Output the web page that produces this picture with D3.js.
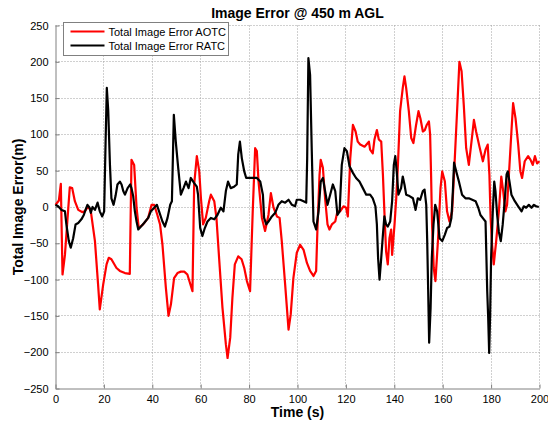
<!DOCTYPE html>
<html>
<head>
<meta charset="utf-8">
<script src="https://cdn.jsdelivr.net/npm/d3@7"></script>
<style>
  body { margin: 0; background: #fff; }
  text { font-family: Arial, "Liberation Sans", sans-serif; }
</style>
</head>
<body>
<div id="chart"></div>
<script>
// values: [time (s), error (m)]
const aotc = [[0,3],[1.4,9],[2.2,32],[2.9,-93],[3.9,-66],[4.8,-24],[5.9,27],[6.9,26],[8.0,8],[9.4,-4],[11.0,-7],[12.1,-6],[13.5,1],[14.6,-6],[16.3,-47],[17.6,-107],[18.3,-141],[19.7,-107],[21.1,-79],[22.0,-70],[23.1,-72],[25.2,-84],[26.6,-88],[28.7,-91],[30.7,-92],[31.4,65],[32.5,58],[33.5,-1],[34.4,-29],[36.2,-24],[38.3,-15],[39.7,3],[40.8,3],[42.1,-11],[43.2,-24],[44.2,-52],[45.6,-111],[46.7,-150],[47.7,-134],[49.0,-98],[50.4,-91],[51.8,-89],[53.2,-89],[54.5,-93],[56.6,-116],[57.3,31],[58.4,70],[59.4,49],[60.1,12],[61.0,-24],[62.1,-15],[63.5,8],[64.2,17],[65.6,8],[66.5,-15],[67.6,-70],[69.0,-139],[70.4,-189],[71.1,-208],[72.2,-180],[73.1,-125],[74.1,-79],[75.5,-68],[76.9,-72],[78.0,-84],[79.1,-102],[80.4,-116],[81.5,-6],[82.5,81],[83.2,77],[83.9,35],[85.3,-15],[86.6,-33],[88.0,-11],[89.0,19],[90.1,-1],[91.5,-13],[92.6,-15],[93.5,-47],[94.9,-107],[96.3,-169],[97.2,-148],[98.3,-98],[99.7,-63],[101.1,-52],[102.5,-59],[103.9,-77],[105.2,-88],[106.6,-95],[107.7,-88],[108.3,-24],[109.1,44],[109.6,65],[110.5,54],[111.4,12],[112.4,-24],[113.2,-31],[114.2,-24],[115.6,-20],[116.5,-6],[117.6,-6],[119.0,1],[120.1,-1],[120.8,-13],[121.8,67],[122.9,113],[124.0,104],[124.9,90],[125.9,86],[127.7,83],[129.5,90],[130.0,79],[131.1,74],[131.8,93],[132.8,106],[133.6,93],[134.6,90],[135.3,44],[135.9,-6],[136.6,-61],[137.3,-79],[138.0,-43],[138.7,-31],[139.1,-66],[140.1,-24],[140.8,12],[141.5,58],[142.4,132],[143.5,164],[144.2,180],[144.9,164],[146.0,132],[147.0,95],[147.9,88],[149.0,113],[150.0,132],[150.8,122],[151.8,104],[152.6,106],[153.4,113],[154.3,118],[154.8,100],[155.2,44],[155.6,-24],[156.3,-84],[157.0,-102],[158.1,-43],[159.1,26],[159.8,49],[160.9,35],[161.8,-6],[162.8,-20],[163.9,-6],[165.0,67],[166.0,136],[166.9,200],[167.8,187],[168.7,141],[169.7,81],[170.8,58],[171.9,90],[172.9,120],[173.8,104],[175.2,83],[176.6,63],[177.7,79],[178.6,86],[179.3,44],[179.8,-15],[180.4,-52],[181.1,-79],[182.1,-47],[183.2,-6],[184.2,42],[185.0,22],[185.9,-6],[186.6,3],[187.6,58],[188.4,104],[189.1,143],[190.1,122],[191.2,86],[192.1,49],[192.8,40],[193.9,63],[195.3,70],[196.3,65],[197.2,58],[198.1,70],[199.0,60],[200.0,63]];

const ratc = [[0,3],[1.1,1],[2.5,-4],[3.9,-6],[4.5,-24],[5.5,-47],[6.3,-56],[7.3,-43],[8.3,-24],[9.4,-22],[10.7,-17],[11.7,-11],[12.4,-4],[13.2,3],[14.1,-1],[14.6,-8],[15.3,0],[16.3,-4],[17.4,6],[18.3,-6],[19.3,-13],[20.1,-6],[20.7,90],[21.2,164],[21.8,132],[22.5,58],[23.1,12],[24.0,3],[24.8,15],[25.6,31],[26.6,35],[27.3,31],[28.0,22],[28.7,17],[29.8,26],[30.9,31],[31.4,26],[32.1,15],[32.8,-6],[33.5,-20],[34.2,-31],[35.3,-27],[36.6,-22],[38.3,-15],[39.4,-6],[40.8,-1],[41.9,3],[42.8,-6],[44.2,-20],[45.2,-27],[46.3,-15],[47.4,3],[48.1,8],[48.5,67],[48.9,127],[49.7,90],[50.7,54],[51.8,17],[52.9,26],[53.9,35],[55.0,26],[55.9,40],[57.3,33],[58.4,28],[58.9,17],[59.8,-29],[60.7,-40],[61.7,-29],[62.8,-20],[64.2,-15],[65.6,-17],[66.9,-11],[68.3,-1],[69.4,-6],[70.4,22],[71.3,35],[72.4,26],[73.8,28],[74.9,31],[75.5,72],[76.2,90],[77.0,67],[78.0,49],[78.8,40],[80.7,40],[83.2,40],[84.6,35],[85.7,17],[86.2,-15],[87.1,-24],[88.0,-20],[89.4,-13],[90.8,-8],[92.1,3],[93.5,8],[94.9,6],[96.3,10],[97.7,3],[99.0,1],[99.7,10],[101.1,10],[102.5,8],[103.6,6],[104.0,67],[104.5,205],[105.2,182],[105.9,77],[106.6,-20],[107.7,-31],[108.7,-6],[109.6,35],[110.5,40],[111.4,22],[112.4,3],[113.5,17],[114.6,31],[115.6,22],[116.5,-11],[117.4,-6],[118.3,58],[119.4,81],[120.4,77],[121.5,56],[122.9,47],[124.2,40],[125.6,35],[127.0,26],[128.4,17],[130.0,17],[131.1,12],[132.2,1],[132.8,-24],[133.3,-70],[133.9,-100],[134.6,-70],[135.3,-38],[135.9,-13],[136.6,-24],[137.3,-27],[138.3,-20],[139.1,8],[139.8,58],[140.4,70],[141.0,49],[141.7,17],[142.8,26],[143.5,42],[144.2,31],[144.9,17],[146.3,15],[147.7,12],[148.8,-4],[149.7,12],[150.7,10],[151.8,22],[152.5,24],[153.2,3],[153.6,-47],[154.0,-116],[154.4,-187],[155.0,-139],[155.5,-70],[156.2,-24],[156.9,3],[157.7,-6],[158.7,-43],[159.8,-47],[160.9,-38],[161.8,-29],[162.8,-27],[163.6,-15],[164.2,22],[164.7,61],[165.6,49],[166.7,35],[168.0,17],[169.4,12],[170.8,12],[172.2,10],[173.6,8],[174.7,-1],[175.6,-11],[177.0,-17],[177.7,-20],[178.0,-61],[178.4,-116],[178.8,-153],[179.2,-201],[179.6,-148],[180.0,-70],[180.7,-6],[181.3,35],[181.8,22],[182.5,-11],[183.2,-34],[184.0,-47],[184.8,-24],[185.7,12],[186.4,45],[186.9,49],[187.6,35],[188.4,17],[189.8,8],[191.2,1],[192.6,-6],[193.5,1],[194.5,-1],[195.6,3],[196.7,-1],[197.7,3],[198.6,1],[199.7,0]];

const xTicks = [0, 20, 40, 60, 80, 100, 120, 140, 160, 180, 200];
const yTicks = [-250, -200, -150, -100, -50, 0, 50, 100, 150, 200, 250];
const seriesNames = ["Total Image Error AOTC", "Total Image Error RATC"];
const seriesColors = ["#ff0000", "#000000"];

var W = 548, H = 423;
var margin = {top: 25.5, right: 8.5, bottom: 34.5, left: 55.5};
var w = W - margin.left - margin.right;
var h = H - margin.top - margin.bottom;

var svg = d3.select("#chart").append("svg")
    .attr("width", W)
    .attr("height", H);

var g = svg.append("g")
    .attr("transform", "translate(" + margin.left + "," + margin.top + ")");

var x = d3.scaleLinear().domain([0, 200]).range([0, w]);
var y = d3.scaleLinear().domain([-250, 250]).range([h, 0]);

// dotted grid
g.append("g").selectAll("line").data(xTicks.slice(1)).join("line")
    .attr("x1", d => Math.round(x(d))).attr("x2", d => Math.round(x(d)))
    .attr("y1", 0).attr("y2", h)
    .attr("stroke", "#a0a0a0").attr("stroke-dasharray", "1,2");
g.append("g").selectAll("line").data(yTicks.slice(1)).join("line")
    .attr("y1", d => Math.round(y(d))).attr("y2", d => Math.round(y(d)))
    .attr("x1", 0).attr("x2", w)
    .attr("stroke", "#a0a0a0").attr("stroke-dasharray", "1,2");

// axes
var xAxis = g.append("g")
    .attr("transform", "translate(0," + h + ")")
    .call(d3.axisBottom(x).tickValues(xTicks).tickSizeInner(-4).tickSizeOuter(0).tickPadding(7));
var yAxis = g.append("g")
    .call(d3.axisLeft(y).tickValues(yTicks).tickSizeInner(-4).tickSizeOuter(0).tickPadding(7));
[xAxis, yAxis].forEach(a => {
    a.select(".domain").attr("stroke", "#808080");
    a.selectAll(".tick line").attr("stroke", "#808080");
    a.selectAll(".tick text").attr("fill", "#000").style("font-size", "11px")
        .style("font-family", "Arial, 'Liberation Sans', sans-serif");
});

// series
var line = d3.line().x(d => x(d[0])).y(d => y(d[1]));
[aotc, ratc].forEach((s, i) => {
    g.append("path")
        .datum(s)
        .attr("fill", "none")
        .attr("stroke", seriesColors[i])
        .attr("stroke-width", 2.2)
        .attr("stroke-linejoin", "round")
        .attr("d", line);
});

// title and labels
svg.append("text")
    .attr("x", margin.left + w / 2).attr("y", 18)
    .attr("text-anchor", "middle")
    .style("font-size", "14px").style("font-weight", "bold")
    .text("Image Error @ 450 m AGL");
svg.append("text")
    .attr("x", margin.left + w / 2).attr("y", 417)
    .attr("text-anchor", "middle")
    .style("font-size", "14px").style("font-weight", "bold")
    .text("Time (s)");
svg.append("text")
    .attr("transform", "rotate(-90)")
    .attr("x", -(margin.top + h / 2)).attr("y", 23)
    .attr("text-anchor", "middle")
    .style("font-size", "14px").style("font-weight", "bold")
    .text("Total Image Error(m)");

// legend
var leg = svg.append("g").attr("transform", "translate(63.5,22.5)");
leg.append("rect")
    .attr("width", 165).attr("height", 33)
    .attr("fill", "#fff").attr("stroke", "#808080");
seriesNames.forEach((name, i) => {
    var yy = 9 + i * 14;
    leg.append("line")
        .attr("x1", 7).attr("x2", 41).attr("y1", yy).attr("y2", yy)
        .attr("stroke", seriesColors[i]).attr("stroke-width", 2.2);
    leg.append("text")
        .attr("x", 45).attr("y", yy + 4)
        .style("font-size", "11px")
        .text(name);
});
</script>
</body>
</html>
